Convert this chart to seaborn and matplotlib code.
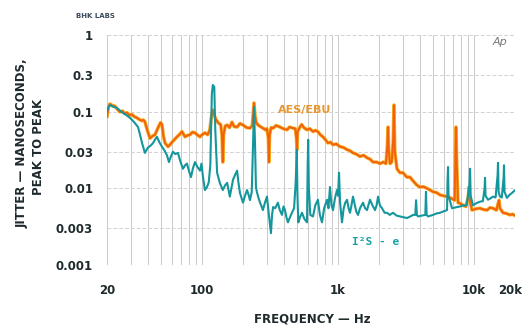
import matplotlib
matplotlib.use("Agg")
import matplotlib.pyplot as plt
import matplotlib.transforms as mtransforms
import seaborn as sns
import pandas as pd

# AES/EBU jitter spectrum (Hz, ns peak-to-peak)
aes_freq = [20, 20.5, 21, 22, 22.9, 23.8, 24.9, 26, 27, 28.1, 29.3, 30.5, 31.8, 33.2, 34.6, 36.2, 37, 38,
            39.5, 41.4, 43.2, 45.1, 46.7, 48.2, 49.5, 50.7, 52, 53.4, 56.2, 58, 60.1, 62.5, 65.4, 68, 71.2,
            73, 74.9, 78, 81.5, 85, 88.7, 92, 96.6, 100, 105, 110, 114, 117, 120, 123, 127, 132, 137, 140,
            142, 144, 148, 153, 159, 166, 172, 181, 190, 200, 212, 225, 234, 238, 241, 245, 250, 258, 268,
            280, 292, 300, 307, 310, 314, 322, 333, 350, 374, 395, 421, 440, 466, 485, 494, 499, 504, 525,
            540, 560, 591, 620, 654, 680, 711, 740, 774, 800, 843, 880, 918, 970, 1033, 1100, 1164, 1220,
            1288, 1360, 1450, 1540, 1633, 1720, 1807, 1920, 2034, 2150, 2250, 2300, 2330, 2360, 2410, 2480,
            2540, 2577, 2615, 2710, 2850, 3000, 3200, 3380, 3560, 3800, 4000, 4250, 4500, 4750, 5000, 5300,
            5620, 5950, 6330, 6700, 7200, 7300, 7370, 7440, 7620, 8000, 8300, 8700, 9050, 9180, 9300, 9660,
            10300, 11060, 11700, 12450, 13100, 13780, 14600, 15100, 15250, 15500, 16330, 17300, 18370,
            19200, 20000]
aes_jitter = [0.085, 0.115, 0.126, 0.12, 0.118, 0.108, 0.099, 0.102, 0.095, 0.097, 0.09, 0.092, 0.086,
              0.083, 0.079, 0.076, 0.078, 0.074, 0.058, 0.045, 0.048, 0.050, 0.058, 0.065, 0.072, 0.068,
              0.048, 0.039, 0.035, 0.037, 0.040, 0.043, 0.047, 0.050, 0.055, 0.051, 0.047, 0.049, 0.050,
              0.054, 0.053, 0.050, 0.047, 0.050, 0.053, 0.050, 0.058, 0.085, 0.105, 0.09, 0.078, 0.071,
              0.068, 0.05, 0.022, 0.05, 0.065, 0.067, 0.062, 0.073, 0.064, 0.063, 0.07, 0.067, 0.062,
              0.061, 0.066, 0.10, 0.13, 0.09, 0.072, 0.067, 0.064, 0.061, 0.058, 0.06, 0.045, 0.022, 0.05,
              0.062, 0.061, 0.066, 0.063, 0.06, 0.058, 0.063, 0.061, 0.06, 0.045, 0.032, 0.055, 0.063,
              0.068, 0.062, 0.058, 0.06, 0.055, 0.057, 0.055, 0.05, 0.047, 0.044, 0.039, 0.04, 0.037,
              0.038, 0.035, 0.034, 0.032, 0.031, 0.029, 0.028, 0.026, 0.027, 0.025, 0.024, 0.022, 0.022,
              0.021, 0.022, 0.021, 0.035, 0.063, 0.03, 0.021, 0.022, 0.04, 0.122, 0.03, 0.018, 0.016,
              0.016, 0.014, 0.014, 0.0125, 0.011, 0.0104, 0.0105, 0.010, 0.0095, 0.009, 0.0088, 0.0082,
              0.008, 0.0078, 0.0075, 0.007, 0.03, 0.063, 0.025, 0.0065, 0.0063, 0.006, 0.0058, 0.0075,
              0.0104, 0.007, 0.0052, 0.0054, 0.0055, 0.0053, 0.0052, 0.0056, 0.0055, 0.0052, 0.0065,
              0.007, 0.0055, 0.0048, 0.0047, 0.0045, 0.0046, 0.0044]

# I2S-e jitter spectrum
i2s_freq = [20, 20.5, 21, 22.2, 23.6, 24.8, 26.2, 27.8, 29.5, 30.8, 32.1, 33.8, 35, 36.2, 38, 40, 41.8,
            43.6, 45, 46.6, 48.5, 50.7, 53, 55.2, 57.1, 59, 61.1, 63.5, 66.5, 69.5, 72.4, 75, 77.5, 80,
            82.9, 85.5, 88.7, 92.5, 96.6, 99, 101.6, 105, 108.7, 112, 115, 118, 120, 123, 125, 129, 135,
            142, 148, 153, 160, 166, 169, 175, 181, 185, 190, 200, 207, 214, 220, 225, 232, 237, 241, 245,
            249, 253, 260, 267, 274, 280, 290, 300, 310, 321, 327, 333, 345, 361, 373, 387, 397, 407, 417,
            428, 443, 458, 475, 488, 497, 503, 510, 525, 543, 565, 591, 598, 603, 610, 625, 654, 680, 711,
            735, 762, 790, 815, 830, 850, 872, 895, 918, 950, 982, 1000, 1016, 1035, 1069, 1100, 1130,
            1164, 1195, 1224, 1255, 1288, 1330, 1360, 1402, 1450, 1490, 1526, 1580, 1633, 1670, 1718,
            1790, 1870, 1920, 1968, 2030, 2105, 2200, 2292, 2400, 2535, 2700, 2852, 3000, 3213, 3400,
            3558, 3700, 3745, 3800, 3873, 4100, 4380, 4431, 4480, 4585, 4988, 5300, 5620, 5950, 6330,
            6380, 6436, 6490, 6886, 7495, 7900, 8299, 8800, 9250, 9342, 9440, 9820, 10400, 11060, 11600,
            11950, 12040, 12150, 12660, 13200, 13780, 14400, 14900, 15000, 15150, 15510, 16000, 16500,
            16600, 16750, 17460, 18200, 19000, 20000]
i2s_jitter = [0.1, 0.115, 0.122, 0.116, 0.112, 0.104, 0.096, 0.09, 0.083, 0.077, 0.071, 0.063, 0.05,
              0.039, 0.029, 0.034, 0.036, 0.039, 0.043, 0.047, 0.04, 0.035, 0.031, 0.027, 0.022, 0.026,
              0.030, 0.028, 0.029, 0.022, 0.018, 0.02, 0.021, 0.017, 0.014, 0.018, 0.022, 0.019, 0.017,
              0.021, 0.014, 0.0095, 0.0104, 0.012, 0.02, 0.17, 0.223, 0.21, 0.06, 0.016, 0.0118, 0.0095,
              0.011, 0.0118, 0.0078, 0.011, 0.013, 0.015, 0.017, 0.012, 0.0087, 0.0065, 0.008, 0.0095,
              0.0082, 0.007, 0.009, 0.04, 0.115, 0.04, 0.0104, 0.009, 0.0075, 0.0065, 0.0058, 0.0052,
              0.0065, 0.0078, 0.0045, 0.0026, 0.0045, 0.0057, 0.0055, 0.0065, 0.0052, 0.0045, 0.0058,
              0.0052, 0.0042, 0.0036, 0.0042, 0.0048, 0.0055, 0.012, 0.032, 0.008, 0.0036, 0.0042, 0.0048,
              0.004, 0.0036, 0.02, 0.043, 0.01, 0.0045, 0.0043, 0.006, 0.0071, 0.0045, 0.0036, 0.0055,
              0.0065, 0.0071, 0.0055, 0.0104, 0.006, 0.0052, 0.0075, 0.0095, 0.008, 0.016, 0.0065, 0.0036,
              0.0055, 0.0065, 0.0071, 0.0055, 0.0048, 0.006, 0.0078, 0.006, 0.005, 0.0045, 0.0055, 0.006,
              0.0065, 0.0055, 0.0052, 0.006, 0.0071, 0.006, 0.0052, 0.006, 0.0078, 0.006, 0.0055, 0.0048,
              0.0048, 0.0045, 0.0048, 0.0044, 0.0043, 0.0042, 0.0041, 0.0043, 0.0045, 0.0045, 0.007,
              0.0045, 0.0043, 0.0044, 0.0045, 0.009, 0.0045, 0.0043, 0.0045, 0.0047, 0.0048, 0.005,
              0.0052, 0.012, 0.019, 0.008, 0.0055, 0.0057, 0.0058, 0.006, 0.006, 0.011, 0.018, 0.008,
              0.006, 0.0064, 0.0067, 0.0068, 0.01, 0.0137, 0.008, 0.0071, 0.0074, 0.0078, 0.0076, 0.015,
              0.0215, 0.009, 0.0078, 0.0076, 0.014, 0.020, 0.009, 0.0075, 0.0082, 0.0087, 0.0095]

x_ticks = [20, 100, 1000, 10000, 20000]
x_tick_labels = ["20", "100", "1k", "10k", "20k"]
y_ticks = [0.001, 0.003, 0.01, 0.03, 0.1, 0.3, 1]
y_tick_labels = ["0.001", "0.003", "0.01", "0.03", "0.1", "0.3", "1"]

sns.set_style("white")
plt.rcParams["font.family"] = ["DejaVu Sans"]
ink = "#1f2a2c"
orange = "#f2620e"
teal = "#14979c"

aes = pd.DataFrame({"freq": aes_freq, "jitter": aes_jitter})
i2s = pd.DataFrame({"freq": i2s_freq, "jitter": i2s_jitter})

fig = plt.figure(figsize=(5.25, 3.26), dpi=100)
ax = fig.add_axes([107 / 525, 1 - 265 / 326, 408 / 525, 230 / 326])

ax.set_xscale("log")
ax.set_yscale("log")
ax.set_xlim(20, 20000)
ax.set_ylim(0.001, 1)

# grid: every 1..9 step per decade on x, labelled ticks only on a few
grid_x = [m * 10 ** e for e in range(1, 5) for m in range(1, 10) if 20 <= m * 10 ** e <= 20000]
for gx in grid_x:
    ax.axvline(gx, color="#c9c9c9", lw=0.7, zorder=0)
for gy in y_ticks:
    ax.axhline(gy, color="#d2d2d2", lw=0.7, ls=(0, (4, 2)), zorder=0)

sns.lineplot(data=aes, x="freq", y="jitter", ax=ax, color="#f6b020", lw=2.5, estimator=None, sort=False)
sns.lineplot(data=aes, x="freq", y="jitter", ax=ax, color=orange, lw=1.4, estimator=None, sort=False)
sns.lineplot(data=i2s, x="freq", y="jitter", ax=ax, color=teal, lw=1.5, estimator=None, sort=False)

ax.set_xticks(x_ticks)
ax.set_xticklabels(x_tick_labels)
ax.set_xticks([], minor=True)
ax.set_yticks(y_ticks)
ax.set_yticklabels(y_tick_labels)
ax.set_yticks([], minor=True)
ax.tick_params(axis="both", length=0, labelsize=8.5, colors=ink)
ax.tick_params(axis="x", pad=14)
ax.tick_params(axis="y", pad=10)
for lab in ax.get_xticklabels() + ax.get_yticklabels():
    lab.set_fontweight("bold")
# the last label sits a little left of its gridline so it stays on the page
last = ax.get_xticklabels()[-1]
last.set_transform(last.get_transform() + mtransforms.ScaledTranslation(-5 / 100, 0, fig.dpi_scale_trans))
ax.set_xlabel("")
ax.set_ylabel("")
for s in ax.spines.values():
    s.set_visible(False)

ax.text(570, 0.105, "AES/EBU", color="#e8962e", fontsize=8, fontweight="bold", ha="center", va="center")
ax.text(1900, 0.002, "I²S - e", color="#1a9fa6", fontsize=8, fontweight="bold",
        family="DejaVu Sans Mono", ha="center", va="center")
ax.text(0.963, 0.97, "Ap", transform=ax.transAxes, color="#777777", fontsize=8, style="italic",
        ha="center", va="center")

fig.text(22 / 525, 1 - 143 / 326, "JITTER — NANOSECONDS,", rotation=90, ha="center", va="center",
         fontsize=8.5, fontweight="bold", color=ink)
fig.text(38 / 525, 1 - 147 / 326, "PEAK TO PEAK", rotation=90, ha="center", va="center",
         fontsize=8.5, fontweight="bold", color=ink)
fig.text(312 / 525, 1 - 319 / 326, "FREQUENCY — Hz", ha="center", va="center",
         fontsize=8.5, fontweight="bold", color=ink)
fig.text(95 / 525, 1 - 16 / 326, "BHK LABS", ha="center", va="center", fontsize=5,
         fontweight="bold", color="#3a4a5a")

fig.savefig("out.png", dpi=100)
